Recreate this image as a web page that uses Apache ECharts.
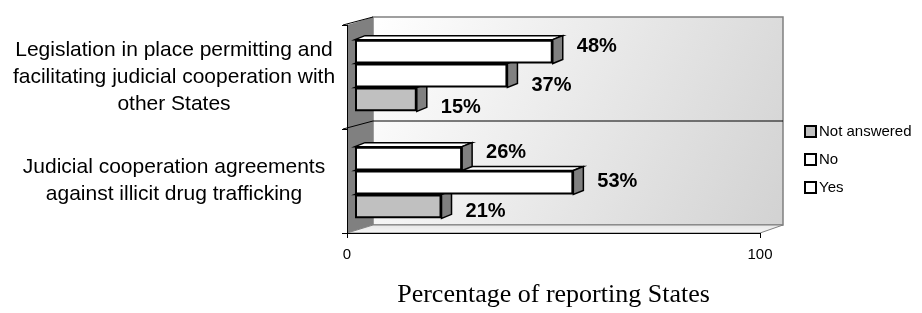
<!DOCTYPE html>
<html>
<head>
<meta charset="utf-8">
<script src="https://cdn.jsdelivr.net/npm/echarts@6/dist/echarts.min.js"></script>
<style>
html, body { margin: 0; padding: 0; background: #fff; }
#chart { width: 922px; height: 313px; }
</style>
</head>
<body>
<div id="chart"></div>
<script>
// data
const categories = [
    'Legislation in place permitting and\nfacilitating judicial cooperation with\nother States',
    'Judicial cooperation agreements\nagainst illicit drug trafficking'
];
const seriesNames = ['Yes', 'No', 'Not answered'];
const yesValues = [48, 26];
const noValues = [37, 53];
const notAnsweredValues = [15, 21];
const xMin = 0;
const xMax = 100;

const seriesValues = [yesValues, noValues, notAnsweredValues];
const seriesColors = ['#ffffff', '#ffffff', '#c0c0c0'];
// vertical nudge of each value label (per series, per category)
const labelNudge = [[-5, -6], [10, -1], [8, 5]];
const gapRatio = 0.33;

const chart = echarts.init(document.getElementById('chart'));

// depth faces (top + right side) of every bar, lower bars first
const depthData = [];
for (let s = seriesValues.length - 1; s >= 0; s--) {
    seriesValues[s].forEach((v, c) => depthData.push([v, c, s]));
}

function renderDepth(params, api) {
    const v = api.value(0), c = api.value(1), s = api.value(2);
    const start = api.coord([0, c]);
    const end = api.coord([v, c]);
    const band = api.size([0, 1])[1];
    const barW = band * (1 - gapRatio) / 3;
    const top = start[1] - band * (1 - gapRatio) / 2 + s * barW;
    const dx = 10, dy = -4;
    const fill = seriesColors[s];
    return {
        type: 'group',
        children: [
            {
                type: 'polygon',
                shape: { points: [[start[0], top], [start[0] + dx, top + dy], [end[0] + dx, top + dy], [end[0], top]] },
                style: { fill: fill, stroke: '#000', lineWidth: 1.5 }
            },
            {
                type: 'polygon',
                shape: { points: [[end[0], top], [end[0] + dx, top + dy], [end[0] + dx, top + barW + dy], [end[0], top + barW]] },
                style: { fill: '#808080', stroke: '#000', lineWidth: 1.5 }
            }
        ]
    };
}

// 3d box: back wall, side wall, floor, gridlines
function renderFrame(params, api) {
    const cs = params.coordSys;
    const x = cs.x, y = cs.y, w = cs.width, h = cs.height;
    const dx = 26, dy = -8;
    const band = api.size([0, 1])[1];
    const mid = api.coord([0, 0])[1] + band / 2;
    return {
        type: 'group',
        children: [
            {
                type: 'rect',
                shape: { x: x + dx, y: y + dy, width: w - 3, height: h },
                style: {
                    fill: new echarts.graphic.LinearGradient(0, 0, 1, 1, [
                        { offset: 0, color: '#ffffff' },
                        { offset: 1, color: '#d2d2d2' }
                    ]),
                    stroke: '#808080', lineWidth: 1.5
                }
            },
            {
                type: 'polygon',
                shape: { points: [[x, y], [x + dx, y + dy], [x + dx, y + h + dy], [x, y + h]] },
                style: { fill: '#808080' }
            },
            {
                type: 'polygon',
                shape: { points: [[x, y + h], [x + dx, y + h + dy], [x + w + dx - 3, y + h + dy], [x + w, y + h]] },
                style: {
                    fill: new echarts.graphic.LinearGradient(0, 0, 0, 1, [
                        { offset: 0, color: '#e6e6e6' },
                        { offset: 1, color: '#f8f8f8' }
                    ]),
                    stroke: '#808080', lineWidth: 1
                }
            },
            { type: 'line', shape: { x1: x - 4, y1: mid, x2: x + dx, y2: mid + dy }, style: { stroke: '#000', lineWidth: 1 } },
            { type: 'line', shape: { x1: x + dx, y1: mid + dy, x2: x + w + dx - 3, y2: mid + dy }, style: { stroke: '#000', lineWidth: 1 } },
            { type: 'line', shape: { x1: x - 4, y1: y, x2: x + dx, y2: y + dy }, style: { stroke: '#000', lineWidth: 1 } }
        ]
    };
}

const barSeries = seriesNames.map((name, i) => ({
    name: name,
    type: 'bar',
    xAxisIndex: 0,
    yAxisIndex: 0,
    data: seriesValues[i].map((v, c) => ({ value: v, label: { offset: [0, labelNudge[i][c]] } })),
    barGap: '0%',
    barCategoryGap: (gapRatio * 100) + '%',
    z: 3,
    itemStyle: { color: seriesColors[i], borderColor: '#000', borderWidth: 2 },
    label: {
        show: true,
        position: 'right',
        distance: 24,
        formatter: '{c}%',
        color: '#000',
        fontFamily: 'Liberation Sans, Arial, sans-serif',
        fontWeight: 'bold',
        fontSize: 20
    }
}));

const option = {
    animation: false,
    backgroundColor: '#fff',
    grid: [
        { left: 355, top: 22, width: 412, height: 214 },
        { left: 347, top: 25, width: 413, height: 214 }
    ],
    xAxis: [
        { gridIndex: 0, type: 'value', min: xMin, max: xMax, show: false },
        {
            gridIndex: 1, type: 'value', min: xMin, max: xMax, interval: xMax - xMin,
            axisLine: { show: true, lineStyle: { color: '#000', width: 1 } },
            axisTick: { show: true, length: 5, lineStyle: { color: '#000' } },
            splitLine: { show: false },
            axisLabel: { color: '#000', fontSize: 15, fontFamily: 'Liberation Sans, Arial, sans-serif', margin: 14 },
            name: 'Percentage of reporting States',
            nameLocation: 'middle',
            nameGap: 49,
            nameTextStyle: { color: '#000', fontSize: 26, fontFamily: 'Liberation Serif, Times New Roman, serif' }
        }
    ],
    yAxis: [
        { gridIndex: 0, type: 'category', data: categories, inverse: true, show: false },
        {
            gridIndex: 1, type: 'category', data: categories, inverse: true,
            axisLine: { show: true, lineStyle: { color: '#000', width: 1 } },
            axisTick: { show: true, length: 5, lineStyle: { color: '#000' } },
            axisLabel: {
                margin: 10,
                formatter: v => v.split('\n').map(s => '{c|' + s + '}').join('\n'),
                rich: {
                    c: {
                        width: 326, align: 'center', color: '#000', fontSize: 21, lineHeight: 27,
                        fontFamily: 'Liberation Sans, Arial, sans-serif'
                    }
                }
            }
        }
    ],
    legend: {
        orient: 'vertical',
        left: 799,
        top: 119,
        itemWidth: 11,
        itemHeight: 11,
        itemGap: 13,
        icon: 'rect',
        data: ['Not answered', 'No', 'Yes'],
        itemStyle: { borderColor: '#000', borderWidth: 2 },
        textStyle: { color: '#000', fontSize: 15, fontFamily: 'Liberation Sans, Arial, sans-serif', padding: [0, 0, 0, -2] }
    },
    series: [
        {
            type: 'custom',
            name: 'frame',
            xAxisIndex: 1,
            yAxisIndex: 1,
            z: 0,
            silent: true,
            data: [[xMin, 0]],
            renderItem: renderFrame
        },
        {
            type: 'custom',
            name: 'depth',
            xAxisIndex: 0,
            yAxisIndex: 0,
            z: 2,
            silent: true,
            data: depthData,
            renderItem: renderDepth
        }
    ].concat(barSeries)
};

chart.setOption(option);
</script>
</body>
</html>
